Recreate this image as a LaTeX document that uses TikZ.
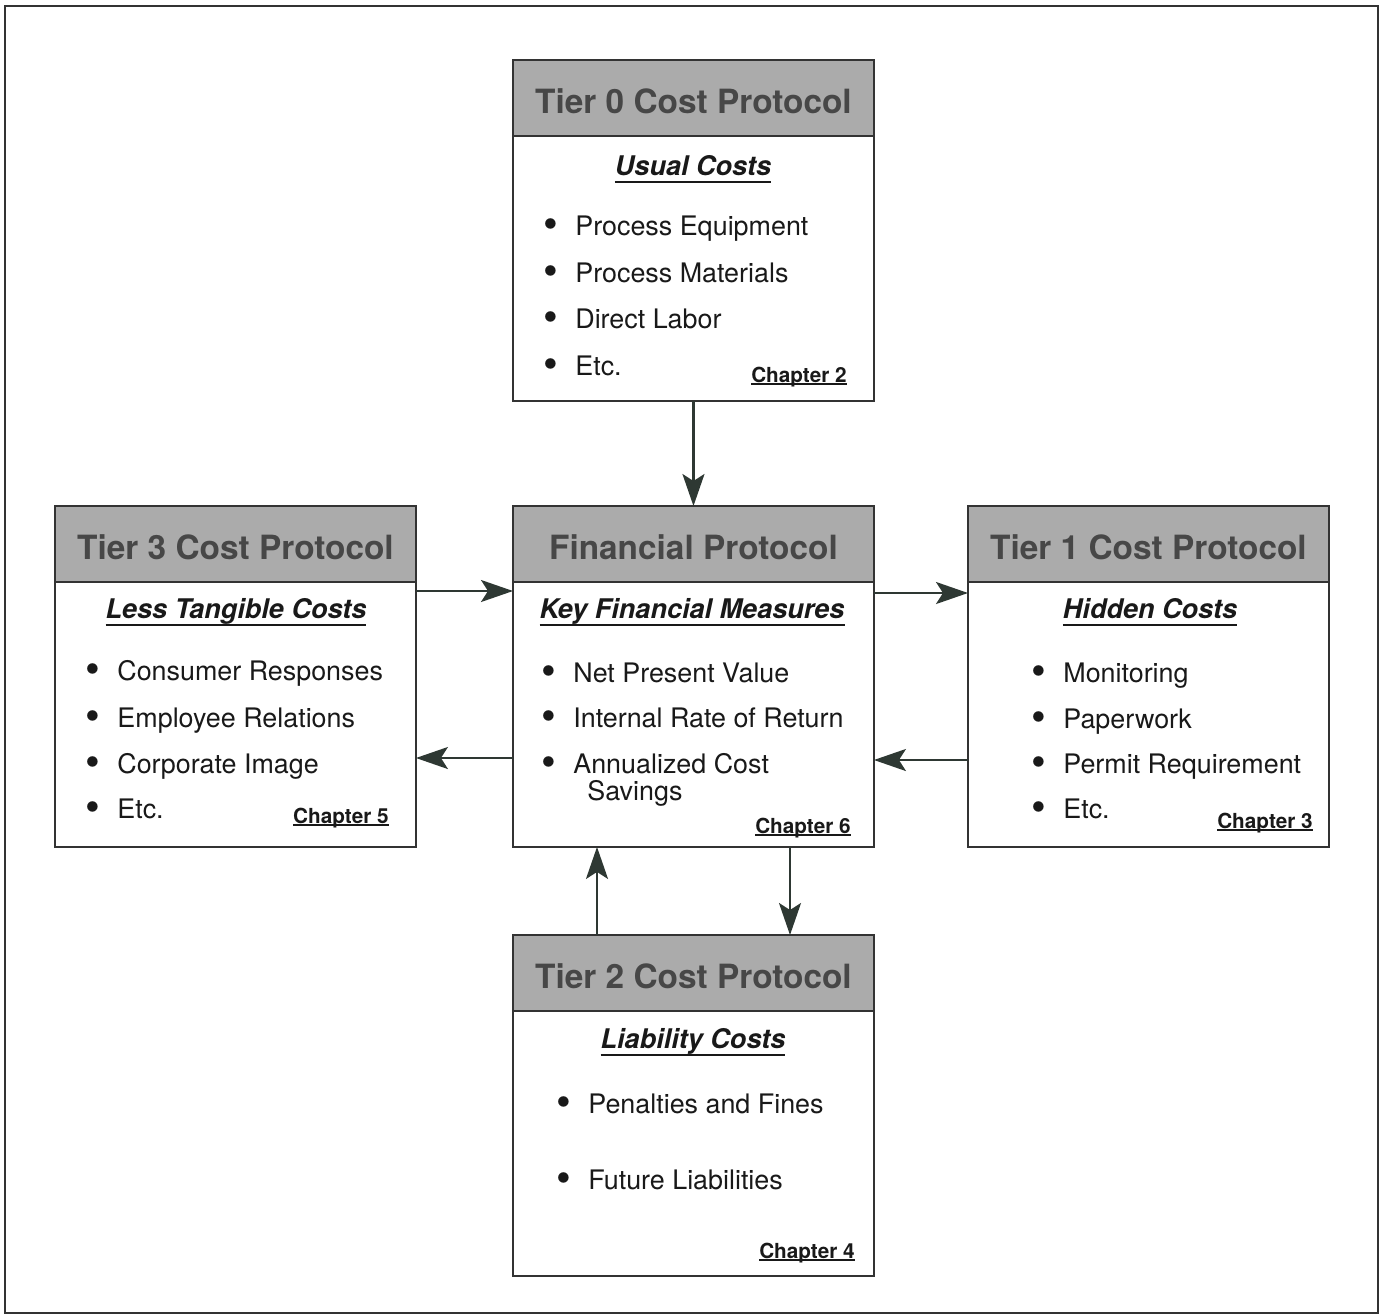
\documentclass[tikz,border=0pt]{standalone}
\usepackage{fontspec}
\setmainfont{TeX Gyre Heros}
\usetikzlibrary{arrows.meta,calc}
\definecolor{arrowgray}{HTML}{2E3833}
\newsavebox{\ulbox}
\newcommand{\subline}[1]{\sbox{\ulbox}{#1}\rlap{\rule[-4.5pt]{\wd\ulbox}{1.3pt}}\usebox{\ulbox}}
\newcommand{\chapline}[1]{\sbox{\ulbox}{#1}\rlap{\rule[-1.6pt]{\wd\ulbox}{0.8pt}}\usebox{\ulbox}}
\newcommand{\itm}{\llap{\raisebox{-2.2pt}{\fontsize{24}{24}\selectfont\textbullet}\hspace{0.34cm}}}

\begin{document}
\begin{tikzpicture}[x=0.02cm,y=-0.02cm,
  box/.style={draw=black!80,line width=1.6pt,fill=white,anchor=north west,minimum width=7.22cm,minimum height=6.82cm,inner sep=0,outer sep=0},
  head/.style={draw=black!80,line width=1.6pt,fill=black!33,text=black!72,anchor=north west,minimum width=7.22cm,minimum height=1.52cm,inner sep=0,outer sep=0,font=\fontsize{19}{22}\selectfont\bfseries,text height=18pt,text depth=0pt},
  sub/.style={anchor=base,inner sep=0,text=black!90,font=\fontsize{15.4}{18}\selectfont\bfseries\itshape},
  item/.style={anchor=base west,inner sep=0,text=black!90,font=\fontsize{15.3}{18}\selectfont},
  chap/.style={anchor=base east,inner sep=0,text=black!90,font=\fontsize{11.8}{13}\selectfont\bfseries},
  arr/.style={draw=arrowgray,line width=1.3pt,-{Stealth[length=0.64cm,width=0.44cm,inset=0.14cm]}}]
\useasboundingbox (0,0) rectangle (1385,1315);
\draw[line width=1.6pt,draw=black!80] (5,6) rectangle (1378,1313);

% Tier 0
\node[box] (t0) at (513,60) {};
\node[head] (t0h) at (t0.north west) {Tier 0 Cost Protocol};
\node[sub] (t0s) at (693,175) {\subline{Usual Costs}};
\node[item] (t0a) at (575,235) {\itm Process Equipment};
\node[item] (t0b) at (575,282) {\itm Process Materials};
\node[item] (t0c) at (575,328) {\itm Direct Labor};
\node[item] (t0d) at (575,375) {\itm Etc.};
\node[chap] (t0ch) at (847,382) {\chapline{Chapter 2}};

% Financial
\node[box] (fin) at (513,506) {};
\node[head] (finh) at (fin.north west) {Financial Protocol};
\node[sub] (fins) at (692,618) {\subline{Key Financial Measures}};
\node[item] (fina) at (573,682) {\itm Net Present Value};
\node[item] (finb) at (573,727) {\itm Internal Rate of Return};
\node[item] (finc) at (573,773) {\itm Annualized Cost};
\node[item] (find) at (587,800) {Savings};
\node[chap] (finch) at (851,833) {\chapline{Chapter 6}};

% Tier 3
\node[box] (t3) at (55,506) {};
\node[head] (t3h) at (t3.north west) {Tier 3 Cost Protocol};
\node[sub] (t3s) at (236,618) {\subline{Less Tangible Costs}};
\node[item] (t3a) at (117,680) {\itm Consumer Responses};
\node[item] (t3b) at (117,727) {\itm Employee Relations};
\node[item] (t3c) at (117,773) {\itm Corporate Image};
\node[item] (t3d) at (117,818) {\itm Etc.};
\node[chap] (t3ch) at (389,823) {\chapline{Chapter 5}};

% Tier 1
\node[box] (t1) at (968,506) {};
\node[head] (t1h) at (t1.north west) {Tier 1 Cost Protocol};
\node[sub] (t1s) at (1150,618) {\subline{Hidden Costs}};
\node[item] (t1a) at (1063,682) {\itm Monitoring};
\node[item] (t1b) at (1063,728) {\itm Paperwork};
\node[item] (t1c) at (1063,773) {\itm Permit Requirement};
\node[item] (t1d) at (1063,818) {\itm Etc.};
\node[chap] (t1ch) at (1313,828) {\chapline{Chapter 3}};

% Tier 2
\node[box] (t2) at (513,935) {};
\node[head] (t2h) at (t2.north west) {Tier 2 Cost Protocol};
\node[sub] (t2s) at (693,1048) {\subline{Liability Costs}};
\node[item] (t2a) at (588,1113) {\itm Penalties and Fines};
\node[item] (t2b) at (588,1189) {\itm Future Liabilities};
\node[chap] (t2ch) at (855,1258) {\chapline{Chapter 4}};

% Flèches
\draw[arr] (t0.south) -- (fin.north);
\draw[arr] (t3.east |- 0,591) -- (fin.west |- 0,591);
\draw[arr] (fin.west |- 0,758) -- (t3.east |- 0,758);
\draw[arr] (fin.east |- 0,593) -- (t1.west |- 0,593);
\draw[arr] (t1.west |- 0,760) -- (fin.east |- 0,760);
\draw[arr] (fin.south -| 790,0) -- (t2.north -| 790,0);
\draw[arr] (t2.north -| 597,0) -- (fin.south -| 597,0);
\end{tikzpicture}
\end{document}
